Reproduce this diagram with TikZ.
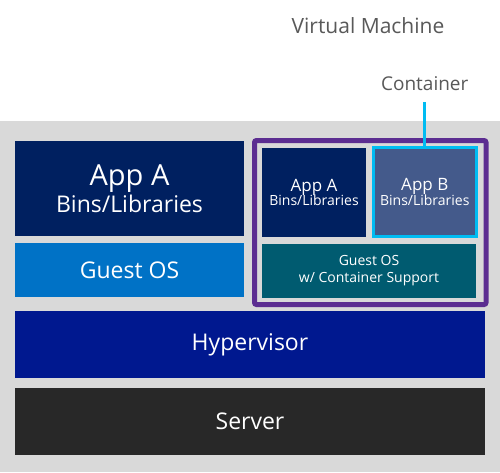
\documentclass[tikz,border=0pt]{standalone}
\usepackage{fontspec}
\setmainfont{Open Sans}
\usetikzlibrary{positioning}
\definecolor{vmgray}{HTML}{D9D9D9}
\definecolor{vmnavy}{HTML}{002060}
\definecolor{vmblue}{HTML}{0072C6}
\definecolor{vmpurple}{HTML}{5C2D91}
\definecolor{vmslate}{HTML}{445A8B}
\definecolor{vmcyan}{HTML}{00BCF2}
\definecolor{vmteal}{HTML}{005B70}
\definecolor{vmhyper}{HTML}{00188F}
\definecolor{vmserver}{HTML}{282828}
\definecolor{vmtextgray}{HTML}{595959}

\begin{document}
\begin{tikzpicture}[x=1pt,y=-1pt,
    box/.style = {rectangle, inner sep=0pt, text=white, align=center},
    bigtext/.style = {font=\fontsize{23}{27}\selectfont},
    vmtext/.style = {inner sep=0pt, text=vmtextgray, font=\fontsize{19}{22}\selectfont}]
    \useasboundingbox[fill=white] (0,0) rectangle (500,472);
    \fill[vmgray] (0,121) rectangle (500,472);
    \node[box, fill=vmnavy, minimum width=229pt, minimum height=95pt] (appa) at (129.5,188.5)
        {{\fontsize{29}{31}\selectfont App A}\\[1pt]{\fontsize{23}{27}\selectfont Bins/Libraries}};
    \node[box, bigtext, fill=vmblue, minimum width=229pt, minimum height=54pt] (guestos) at (129.5,270) {Guest OS};
    \node[box, bigtext, fill=vmhyper, minimum width=470pt, minimum height=67pt] (hyper) at (250,344.5) {Hypervisor};
    \node[box, bigtext, fill=vmserver, minimum width=470pt, minimum height=67pt] (server) at (250,421.5) {Server};
    \node[draw=vmpurple, line width=5pt, rounded corners=2pt, minimum width=231.5pt, minimum height=164pt] (cframe) at (370.25,222.5) {};
    \node[box, fill=vmnavy, minimum width=104pt, minimum height=89pt] (capa) at (314,192.5)
        {{\fontsize{17}{20}\selectfont App A}\\[-1pt]{\fontsize{14}{17}\selectfont Bins/Libraries}};
    \node[box, fill=vmslate, draw=vmcyan, line width=3pt, minimum width=102.5pt, minimum height=89pt] (cappb) at (424.75,192)
        {{\fontsize{17}{20}\selectfont App B}\\[-1pt]{\fontsize{14}{17}\selectfont Bins/Libraries}};
    \node[box, fill=vmteal, minimum width=214pt, minimum height=54pt, font=\fontsize{14}{17}\selectfont] (cguest) at (369,271)
        {Guest OS\\w/ Container Support};
    \coordinate[above=44pt of cappb.north] (ctrtop);
    \node[vmtext, above=11pt of ctrtop] (ctrlabel) {Container};
    \draw[vmcyan, line width=3pt] (cappb.north) -- (ctrtop);
    \node[vmtext, font=\fontsize{21}{25}\selectfont] (vmlabel) at (368,26) {Virtual Machine};
\end{tikzpicture}
\end{document}
